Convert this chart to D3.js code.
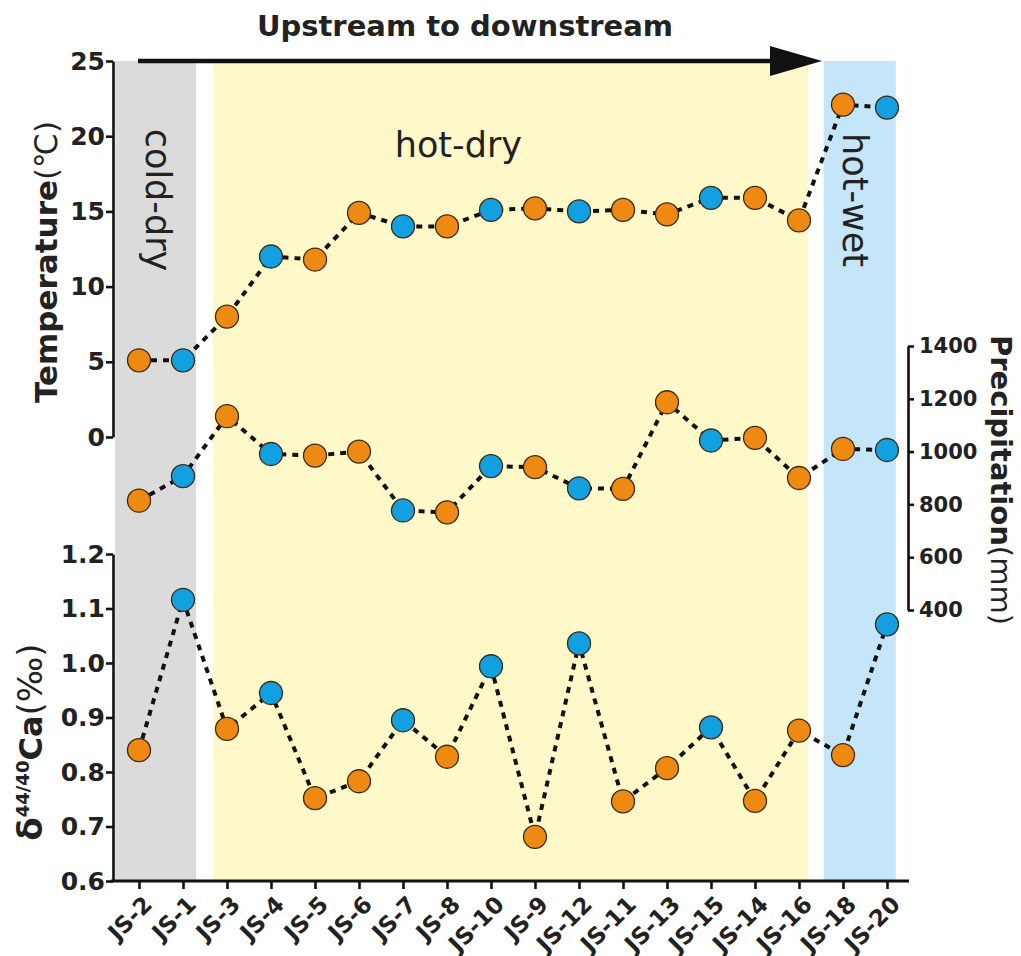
<!DOCTYPE html>
<html>
<head>
<meta charset="utf-8">
<script src="https://cdn.jsdelivr.net/npm/d3@7"></script>
<style>
  body { margin: 0; background: #fff; }
  svg { display: block; }
  text { font-family: "DejaVu Sans", sans-serif; }
</style>
</head>
<body>
<svg id="chart" width="1021" height="956"></svg>
<script>
// ---------------- data ----------------
const categories = ["JS-2","JS-1","JS-3","JS-4","JS-5","JS-6","JS-7","JS-8","JS-10","JS-9","JS-12","JS-11","JS-13","JS-15","JS-14","JS-16","JS-18","JS-20"];
const sampleGroup = ["o","b","o","b","o","o","b","o","b","o","b","o","o","b","o","o","o","b"];
const temperature = [5.1,5.1,8.0,12.0,11.8,14.9,14.0,14.0,15.1,15.2,15.0,15.1,14.8,15.9,15.9,14.4,22.1,21.9];
const precipitation = [814,907,1134,991,985,1000,777,770,945,941,861,859,1187,1042,1052,900,1010,1006];
const deltaCa = [0.840,1.116,0.879,0.945,0.752,0.783,0.895,0.828,0.994,0.681,1.036,0.746,0.807,0.882,0.747,0.876,0.831,1.071];

const tempTicks = [0,5,10,15,20,25];
const precTicks = [400,600,800,1000,1200,1400];
const caTicks = [0.6,0.7,0.8,0.9,1.0,1.1,1.2];

const zoneNames = ["cold-dry","hot-dry","hot-wet"];
const zoneFrom = ["JS-2","JS-3","JS-18"];
const zoneTo = ["JS-1","JS-16","JS-20"];

// ---------------- setup ----------------
const svg = d3.select("#chart");
const FONT = "DejaVu Sans";
const colors = { o: "#EE8A12", b: "#13A0E1" };
const zoneColors = ["#DBDBDB", "#FFF8C8", "#C5E5F8"];

const x = d3.scalePoint().domain(categories).range([117, 909]).padding(0.5);
const step = x.step();
const yT = d3.scaleLinear().domain([0, 25]).range([437, 61]);
const yP = d3.scaleLinear().domain([400, 1400]).range([610, 346]);
const yC = d3.scaleLinear().domain([0.6, 1.2]).range([881, 554]);

const topY = 61, bottomY = 881;

// ---------------- zones ----------------
const zoneLeftOff = [-0.54, -0.32, -0.44];
const zoneRightOff = [0.3, 0.2, 0.2];
const zoneX = zoneNames.map((name, i) => [
  x(zoneFrom[i]) + zoneLeftOff[i] * step,
  x(zoneTo[i]) + zoneRightOff[i] * step
]);
zoneNames.forEach((name, i) => {
  svg.append("rect")
    .attr("x", zoneX[i][0]).attr("y", topY)
    .attr("width", zoneX[i][1] - zoneX[i][0]).attr("height", bottomY - topY)
    .attr("fill", zoneColors[i]);
});

// zone labels
svg.append("text")
  .attr("transform", `translate(${(zoneX[0][0] + zoneX[0][1]) / 2 - 10},200) rotate(90)`)
  .attr("text-anchor", "middle")
  .attr("font-size", 35).attr("fill", "#222")
  .text(zoneNames[0]);
svg.append("text")
  .attr("x", (zoneX[1][0] + zoneX[1][1]) / 2 - 52).attr("y", 157)
  .attr("text-anchor", "middle")
  .attr("font-size", 35).attr("fill", "#222")
  .text(zoneNames[1]);
svg.append("text")
  .attr("transform", `translate(${(zoneX[2][0] + zoneX[2][1]) / 2 - 17},200) rotate(90)`)
  .attr("text-anchor", "middle")
  .attr("font-size", 35).attr("fill", "#222")
  .text(zoneNames[2]);

// ---------------- arrow + title ----------------
svg.append("line")
  .attr("x1", 138).attr("x2", 780).attr("y1", topY).attr("y2", topY)
  .attr("stroke", "#111").attr("stroke-width", 4.5);
svg.append("path")
  .attr("d", `M770,${topY-15}L822,${topY}L770,${topY+15}Z`)
  .attr("fill", "#111");
svg.append("text")
  .attr("x", 465).attr("y", 36)
  .attr("text-anchor", "middle")
  .attr("font-size", 29).attr("font-weight", "bold").attr("fill", "#222")
  .text("Upstream to downstream");

// ---------------- axes ----------------
function styleAxis(g) {
  g.selectAll("path, line").attr("stroke", "#111").attr("stroke-width", 2.6);
  g.selectAll("text").attr("font-family", FONT).attr("font-weight", "bold").attr("fill", "#222");
}

const axT = svg.append("g").attr("transform", "translate(113,0)")
  .call(d3.axisLeft(yT).tickValues(tempTicks).tickSize(7).tickSizeOuter(0).tickPadding(1).tickFormat(d3.format("d")));
styleAxis(axT);
axT.selectAll("text").attr("font-size", 25);

const axC = svg.append("g").attr("transform", "translate(113,0)")
  .call(d3.axisLeft(yC).tickValues(caTicks).tickSize(7).tickSizeOuter(0).tickPadding(1).tickFormat(d3.format(".1f")));
styleAxis(axC);
axC.selectAll("text").attr("font-size", 25);

const axP = svg.append("g").attr("transform", "translate(908,0)")
  .call(d3.axisRight(yP).tickValues(precTicks).tickSize(6).tickSizeOuter(0).tickPadding(5).tickFormat(d3.format("d")));
styleAxis(axP);
axP.selectAll("text").attr("font-size", 21);

const axX = svg.append("g").attr("transform", `translate(0,${bottomY})`)
  .call(d3.axisBottom(x).tickSize(8).tickSizeOuter(0));
styleAxis(axX);
axX.select(".domain").attr("d", "M111,0H909").attr("stroke-width", 3);
axX.selectAll(".tick text")
  .attr("font-size", 23)
  .attr("text-anchor", "end")
  .attr("y", null).attr("dy", null)
  .attr("transform", "translate(14,25) rotate(-45)");

// ---------------- axis titles ----------------
const tLab = svg.append("text")
  .attr("transform", "translate(57,262) rotate(-90)")
  .attr("text-anchor", "middle")
  .attr("font-size", 31).attr("font-weight", "bold").attr("fill", "#222");
tLab.append("tspan").text("Temperature");
tLab.append("tspan").attr("font-weight", "normal").text("(℃)");

const pLab = svg.append("text")
  .attr("transform", "translate(991,480) rotate(90)")
  .attr("text-anchor", "middle")
  .attr("font-size", 29).attr("font-weight", "bold").attr("fill", "#222");
pLab.append("tspan").text("Precipitation");
pLab.append("tspan").attr("font-weight", "normal").text("(mm)");

const cLab = svg.append("text")
  .attr("transform", "translate(42,742) rotate(-90)")
  .attr("text-anchor", "middle")
  .attr("font-size", 32).attr("font-weight", "bold").attr("fill", "#222");
cLab.append("tspan").attr("font-size", 34).text("δ");
cLab.append("tspan").attr("font-size", 18).attr("dy", -13).text("44/40");
cLab.append("tspan").attr("dy", 13).text("Ca");
cLab.append("tspan").attr("font-weight", "normal").attr("font-size", 34).text("(‰)");

// ---------------- series ----------------
function drawSeries(values, yScale) {
  const pts = categories.map((c, i) => ({ c, v: values[i], g: sampleGroup[i] }));
  const line = d3.line().x(d => x(d.c)).y(d => yScale(d.v));
  svg.append("path")
    .datum(pts)
    .attr("d", line)
    .attr("fill", "none")
    .attr("stroke", "#111")
    .attr("stroke-width", 4)
    .attr("stroke-dasharray", "6,6");
  svg.append("g").selectAll("circle")
    .data(pts).join("circle")
    .attr("cx", d => x(d.c))
    .attr("cy", d => yScale(d.v))
    .attr("r", 11.5)
    .attr("fill", d => colors[d.g])
    .attr("stroke", "#3a2a18")
    .attr("stroke-width", 1.3);
}
drawSeries(temperature, yT);
drawSeries(precipitation, yP);
drawSeries(deltaCa, yC);
</script>
</body>
</html>
